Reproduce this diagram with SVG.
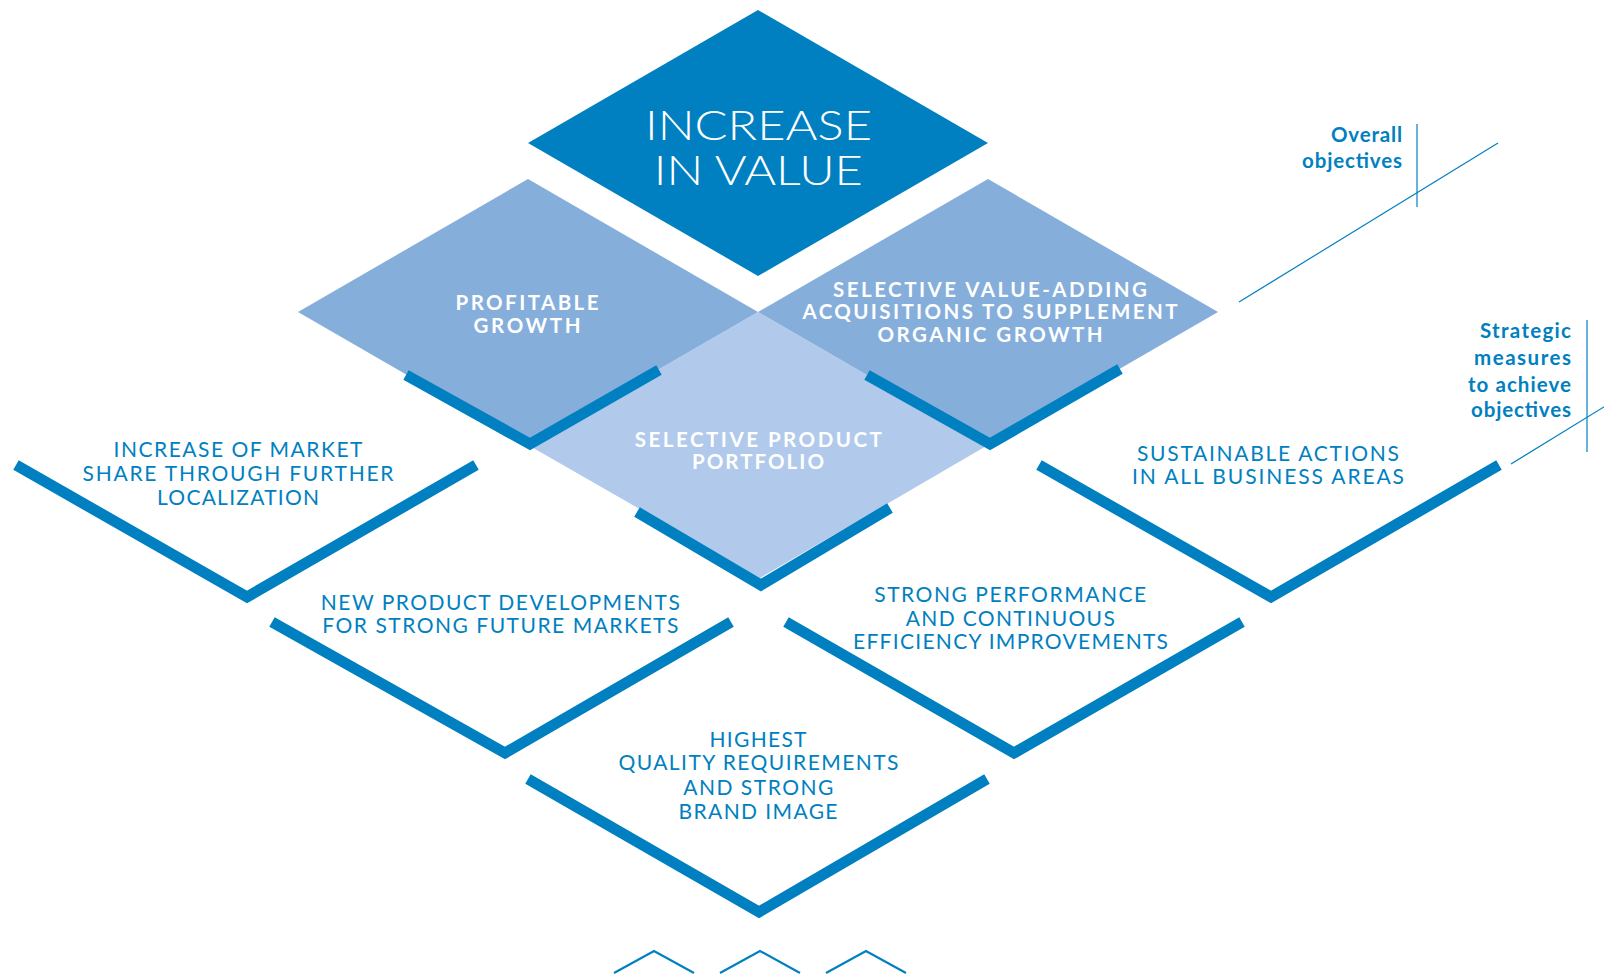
<svg xmlns="http://www.w3.org/2000/svg" width="1604" height="974" viewBox="0 0 1604 974">
<style>
.dark{fill:#0080c0}
.mid{fill:#85aedb}
.light{fill:#b1caec}
.v{fill:none;stroke:#0080c0;stroke-width:11;stroke-linejoin:miter;stroke-miterlimit:10;stroke-linecap:butt}
.thin{fill:none;stroke:#0080c0;stroke-width:1.2}
.chev{fill:none;stroke:#0080c0;stroke-width:2.2}
text{font-family:Lato,"Liberation Sans",sans-serif}
.wt{fill:#ffffff;font-size:20.5px;font-weight:700;text-anchor:middle}
.bt{fill:#0080c0;font-size:21px;font-weight:400;text-anchor:middle}
.big{fill:#ffffff;font-size:42px;font-weight:300;text-anchor:middle}
.leg{fill:#0080c0;font-size:20.5px;font-weight:700;text-anchor:end}
</style>
<rect width="1604" height="974" fill="#ffffff"/>

<g id="node-increase-in-value">
<polygon class="dark" points="758,10 988,143 758,276 528,143"/>
<text class="big" x="758.5" y="140" textLength="227" lengthAdjust="spacingAndGlyphs">INCREASE</text>
<text class="big" x="758.3" y="185" textLength="209" lengthAdjust="spacingAndGlyphs">IN VALUE</text>
</g>

<g id="node-selective-product-portfolio">
<polygon class="light" points="758,312 988,445 760,578 528,445"/>
</g>

<g id="node-profitable-growth">
<polygon class="mid" points="528,179 758,312 528,445 298,312"/>
<text class="wt" x="527" y="310" textLength="143" lengthAdjust="spacing">PROFITABLE</text>
<text class="wt" x="527" y="333" textLength="107" lengthAdjust="spacing">GROWTH</text>
</g>

<g id="node-selective-acquisitions">
<polygon class="mid" points="988,179 1218,312 988,445 758,312"/>
<text class="wt" x="990" y="297" textLength="314" lengthAdjust="spacing">SELECTIVE VALUE-ADDING</text>
<text class="wt" x="990" y="319" textLength="375" lengthAdjust="spacing">ACQUISITIONS TO SUPPLEMENT</text>
<text class="wt" x="990" y="342" textLength="225" lengthAdjust="spacing">ORGANIC GROWTH</text>
</g>

<g id="node-selective-product-portfolio-label">
<text class="wt" x="758.3" y="447" textLength="247" lengthAdjust="spacing">SELECTIVE PRODUCT</text>
<text class="wt" x="758" y="469" textLength="132" lengthAdjust="spacing">PORTFOLIO</text>
</g>

<g id="brackets">
<polyline class="v" points="406,375 530,444 659,370"/>
<polyline class="v" points="867,375 990,444 1120,369"/>
<polyline class="v" points="637,512 761,585 890,508"/>
</g>

<g id="node-market-share">
<polyline class="v" points="16,465 247,597 476,465"/>
<text class="bt" x="238" y="457" textLength="249" lengthAdjust="spacing">INCREASE OF MARKET</text>
<text class="bt" x="238" y="481" textLength="311" lengthAdjust="spacing">SHARE THROUGH FURTHER</text>
<text class="bt" x="238" y="505" textLength="162" lengthAdjust="spacing">LOCALIZATION</text>
</g>

<g id="node-sustainable-actions">
<polyline class="v" points="1039,465 1271,597 1499,465"/>
<text class="bt" x="1268" y="461" textLength="262" lengthAdjust="spacing">SUSTAINABLE ACTIONS</text>
<text class="bt" x="1268" y="484" textLength="272" lengthAdjust="spacing">IN ALL BUSINESS AREAS</text>
</g>

<g id="node-new-product-developments">
<polyline class="v" points="272,622 505,753 731,622"/>
<text class="bt" x="500.3" y="610" textLength="359" lengthAdjust="spacing">NEW PRODUCT DEVELOPMENTS</text>
<text class="bt" x="500.3" y="633" textLength="356" lengthAdjust="spacing">FOR STRONG FUTURE MARKETS</text>
</g>

<g id="node-strong-performance">
<polyline class="v" points="786,622 1014,753 1242,622"/>
<text class="bt" x="1010.2" y="602" textLength="272" lengthAdjust="spacing">STRONG PERFORMANCE</text>
<text class="bt" x="1010.3" y="626" textLength="209" lengthAdjust="spacing">AND CONTINUOUS</text>
<text class="bt" x="1010.5" y="649" textLength="315" lengthAdjust="spacing">EFFICIENCY IMPROVEMENTS</text>
</g>

<g id="node-highest-quality">
<polyline class="v" points="528,779 759,912 987,779"/>
<text class="bt" x="758" y="747" textLength="97" lengthAdjust="spacing">HIGHEST</text>
<text class="bt" x="758.4" y="770" textLength="280" lengthAdjust="spacing">QUALITY REQUIREMENTS</text>
<text class="bt" x="758.3" y="795" textLength="150" lengthAdjust="spacing">AND STRONG</text>
<text class="bt" x="758" y="819" textLength="159" lengthAdjust="spacing">BRAND IMAGE</text>
</g>

<g id="continuation-chevrons">
<polyline class="chev" points="614,973 654,951 694,973"/>
<polyline class="chev" points="720,973 760,951 800,973"/>
<polyline class="chev" points="826,973 866,951 906,973"/>
</g>

<g id="legend-overall">
<text class="leg" x="1402" y="142" textLength="71" lengthAdjust="spacing">Overall</text>
<text class="leg" x="1402" y="168" textLength="100" lengthAdjust="spacing">objectives</text>
</g>

<g id="legend-strategic">
<text class="leg" x="1571" y="338" textLength="91" lengthAdjust="spacing">Strategic</text>
<text class="leg" x="1571" y="365" textLength="97" lengthAdjust="spacing">measures</text>
<text class="leg" x="1571" y="392" textLength="103" lengthAdjust="spacing">to achieve</text>
<text class="leg" x="1571" y="417" textLength="100" lengthAdjust="spacing">objectives</text>
</g>

<g id="connectors">
<line class="thin" x1="1417" y1="124" x2="1417" y2="207"/>
<line class="thin" x1="1239" y1="302" x2="1498" y2="143"/>
<line class="thin" x1="1587" y1="320" x2="1587" y2="452"/>
<line class="thin" x1="1511" y1="464" x2="1612" y2="402"/>
</g>
</svg>
